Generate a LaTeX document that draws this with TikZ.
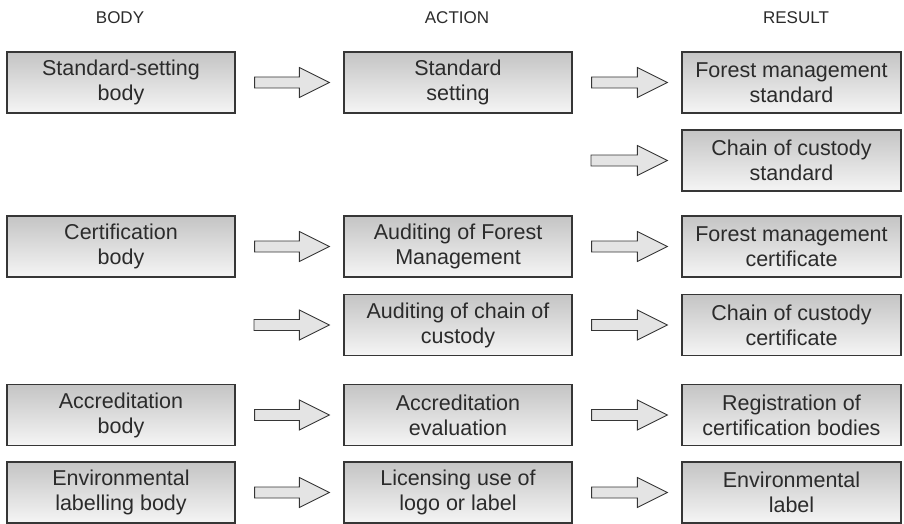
\documentclass[tikz,border=0pt]{standalone}
\usepackage{fontspec}
\setmainfont{Liberation Sans}
\usetikzlibrary{calc}

\definecolor{inkgray}{HTML}{2B2B2B}
\definecolor{edgegray}{HTML}{363636}
\definecolor{arrowfill}{HTML}{E4E4E4}

\tikzset{
  box/.style={draw=edgegray, line width=1.3pt, shading=axis,
    top color=black!23, bottom color=black!4,
    minimum height=61pt, align=center, text=inkgray, inner sep=0pt,
    font=\fontsize{21.5}{25}\selectfont},
  widebox/.style={box, minimum width=228pt},
  resultbox/.style={box, minimum width=219pt},
  colhead/.style={text=inkgray, font=\fontsize{17}{20}\selectfont},
  blockarrow/.style={draw=edgegray, line width=0.9pt, fill=arrowfill, line join=miter},
}

% hollow block arrow: tail 19pt right of the source, tip 14pt left of the target
\newcommand\blockarrow[2]{%
  \path[blockarrow] let \p1=(#1), \p2=(#2) in
    ({\x1+19pt},{\y2+5.5pt}) -- ({\x2-44pt},{\y2+5.5pt}) --
    ({\x2-44pt},{\y2+15pt}) -- ({\x2-14pt},\y2) --
    ({\x2-44pt},{\y2-15pt}) -- ({\x2-44pt},{\y2-5.5pt}) --
    ({\x1+19pt},{\y2-5.5pt}) -- cycle;}

\begin{document}
\begin{tikzpicture}[x=1pt, y=-1pt]
  \useasboundingbox (0,0) rectangle (904,524);

  % column headings
  \node[colhead] (hbody)   at (120,18) {BODY};
  \node[colhead] (haction) at (457,18) {ACTION};
  \node[colhead] (hresult) at (796,18) {RESULT};

  % bodies
  \node[widebox] (b1) at (121,82.5) {Standard-setting\\body};
  \node[widebox] (b3) at (121,246.5) {Certification\\body};
  \node[widebox] (b5) at (121,415) {Accreditation\\body};
  \node[widebox] (b6) at (121,492.5) {Environmental\\labelling body};

  % actions
  \node[widebox] (a1) at (458,82.5) {Standard\\setting};
  \node[widebox] (a3) at (458,246.5) {Auditing of Forest\\Management};
  \node[widebox] (a4) at (458,325) {Auditing of chain of\\custody};
  \node[widebox] (a5) at (458,415) {Accreditation\\evaluation};
  \node[widebox] (a6) at (458,492.5) {Licensing use of\\logo or label};

  % results
  \node[resultbox] (r1) at (791.5,82.5) {Forest management\\standard};
  \node[resultbox] (r2) at (791.5,160.5) {Chain of custody\\standard};
  \node[resultbox] (r3) at (791.5,246.5) {Forest management\\certificate};
  \node[resultbox] (r4) at (791.5,325) {Chain of custody\\certificate};
  \node[resultbox] (r5) at (791.5,415) {Registration of\\certification bodies};
  \node[resultbox] (r6) at (791.5,492.5) {Environmental\\label};

  % free tails for arrows without a box on their left
  \coordinate (t2) at (572,160.5);
  \coordinate (t4) at (235,325);

  % arrows
  \blockarrow{b1.east}{a1.west}
  \blockarrow{a1.east}{r1.west}
  \blockarrow{t2}{r2.west}
  \blockarrow{b3.east}{a3.west}
  \blockarrow{a3.east}{r3.west}
  \blockarrow{t4}{a4.west}
  \blockarrow{a4.east}{r4.west}
  \blockarrow{b5.east}{a5.west}
  \blockarrow{a5.east}{r5.west}
  \blockarrow{b6.east}{a6.west}
  \blockarrow{a6.east}{r6.west}
\end{tikzpicture}
\end{document}
